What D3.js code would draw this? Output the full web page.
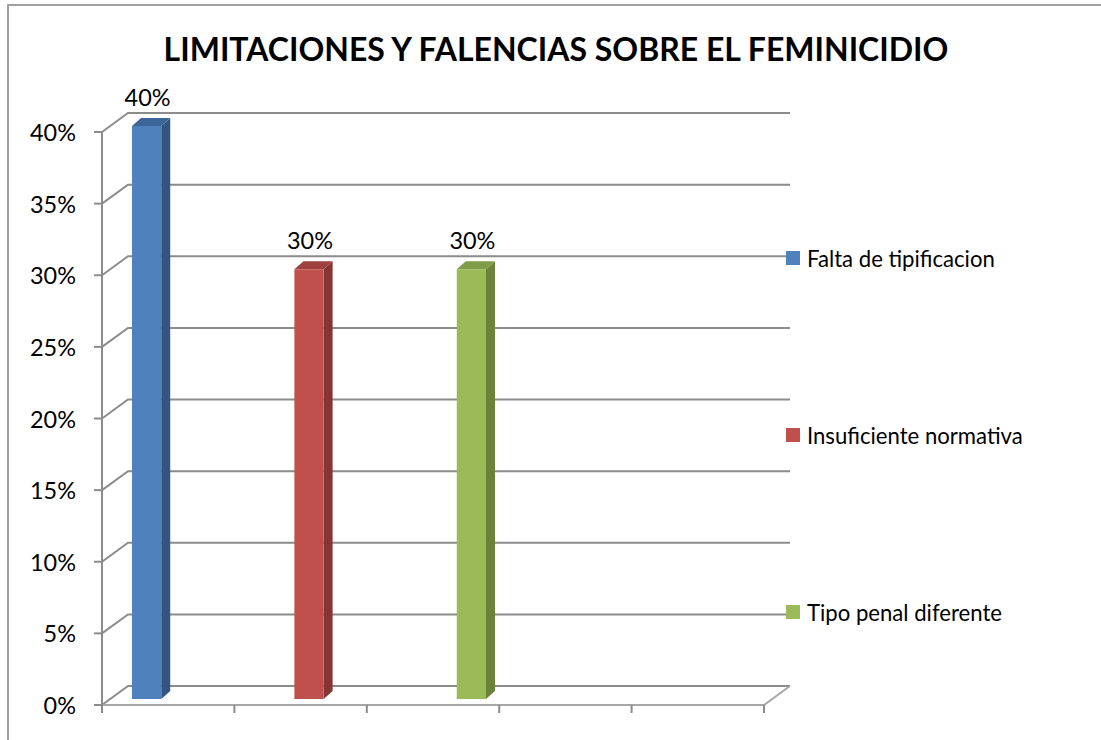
<!DOCTYPE html>
<html>
<head>
<meta charset="utf-8">
<style>
  body { margin: 0; background: #fff; }
  svg text { font-family: Lato, "Open Sans", sans-serif; fill: #000; }
</style>
<script src="https://d3js.org/d3.v7.min.js"></script>
</head>
<body>
<svg id="chart" width="1101" height="740"></svg>
<script>

// data
var series = ["Falta de tipificacion", "Insuficiente normativa", "Tipo penal diferente"];
var values = [0.40, 0.30, 0.30];
var yTicks = [0, 0.05, 0.10, 0.15, 0.20, 0.25, 0.30, 0.35, 0.40];
var slots = [0, 1, 2, 3, 4, 5];   // category tick marks on the floor
var title = "LIMITACIONES Y FALENCIAS SOBRE EL FEMINICIDIO";

// Excel 2007 palette: face, side, top
var colors = {
  "Falta de tipificacion":  { face: "#4f81bd", side: "#34557f", top: "#3c6698" },
  "Insuficiente normativa": { face: "#c0504d", side: "#853533", top: "#9e403d" },
  "Tipo penal diferente":   { face: "#9bbb59", side: "#6b823b", top: "#809c48" }
};

var svg = d3.select("#chart");
var grid = "#8c8c8c";

// outer frame
svg.append("rect")
  .attr("x", 8).attr("y", 5).attr("width", 1200).attr("height", 1000)
  .attr("fill", "none").attr("stroke", "#a0a0a0").attr("stroke-width", 2);

// 3d box: front axis plane and depth offset of the walls
var depth = { dx: 26, dy: -19 };
var y = d3.scaleLinear().domain([0, 0.4]).range([705, 132]);
var xFloor = d3.scaleLinear().domain([0, 5]).range([102, 764]);
var xBar = d3.scaleBand().domain(series).range([132, 486]).paddingInner(0.82);

var g = svg.append("g");

// left wall diagonals + back wall gridlines
yTicks.forEach(function(t) {
  var yf = y(t), yb = y(t) + depth.dy;
  g.append("path")
    .attr("d", "M" + xFloor(0) + "," + yf + "L" + (xFloor(0) + depth.dx) + "," + yb +
               "L" + (xFloor(5) + depth.dx) + "," + yb)
    .attr("fill", "none").attr("stroke", grid).attr("stroke-width", 2);
});

// floor front edge and right edge
g.append("path")
  .attr("d", "M" + xFloor(0) + "," + y(0) + "L" + xFloor(5) + "," + y(0) +
             "L" + (xFloor(5) + depth.dx) + "," + (y(0) + depth.dy))
  .attr("fill", "none").attr("stroke", "#a6a6a6").attr("stroke-width", 2);

// vertical axis line and ticks
g.append("line")
  .attr("x1", xFloor(0)).attr("x2", xFloor(0))
  .attr("y1", y(0.4)).attr("y2", y(0) + 8)
  .attr("stroke", grid).attr("stroke-width", 2);

g.selectAll(".ytick").data(yTicks).enter().append("line")
  .attr("x1", xFloor(0) - 8).attr("x2", xFloor(0))
  .attr("y1", function(d) { return y(d); }).attr("y2", function(d) { return y(d); })
  .attr("stroke", grid).attr("stroke-width", 2);

g.selectAll(".xtick").data(slots).enter().append("line")
  .attr("x1", function(d) { return xFloor(d); }).attr("x2", function(d) { return xFloor(d); })
  .attr("y1", y(0)).attr("y2", y(0) + 8)
  .attr("stroke", grid).attr("stroke-width", 2);

var yLabels = svg.selectAll(".ylab").data(yTicks).enter().append("text")
  .attr("x", 76)
  .attr("y", function(d) { return y(d); })
  .attr("text-anchor", "end")
  .attr("dominant-baseline", "central")
  .text(d3.format(".0%"));

// bars: front face sits a little inside the floor
var inset = { dx: 8, dy: -6 };
var bd = { dx: 9, dy: -8 };
var bars = svg.selectAll(".bar").data(series).enter().append("g");

bars.each(function(s, i) {
  var b = d3.select(this);
  var x0 = xBar(s) + inset.dx - 8, w = xBar.bandwidth();
  var yb = y(0) + inset.dy, yt = y(values[i]) + inset.dy;
  var c = colors[s];
  // side
  b.append("path")
    .attr("d", "M" + (x0 + w) + "," + yb + "L" + (x0 + w + bd.dx) + "," + (yb + bd.dy) +
               "L" + (x0 + w + bd.dx) + "," + (yt + bd.dy) + "L" + (x0 + w) + "," + yt + "Z")
    .attr("fill", c.side);
  // top
  b.append("path")
    .attr("d", "M" + x0 + "," + yt + "L" + (x0 + bd.dx) + "," + (yt + bd.dy) +
               "L" + (x0 + w + bd.dx) + "," + (yt + bd.dy) + "L" + (x0 + w) + "," + yt + "Z")
    .attr("fill", c.top);
  // face
  b.append("rect")
    .attr("x", x0).attr("y", yt).attr("width", w).attr("height", yb - yt)
    .attr("fill", c.face);
  // data label
  b.append("text").attr("class", "dlab")
    .attr("x", x0 + w / 2 + 1).attr("y", yt - 20)
    .attr("text-anchor", "middle")
    .text(d3.format(".0%")(values[i]));
});

// legend
var legend = svg.selectAll(".leg").data(series).enter().append("g")
  .attr("transform", function(d, i) { return "translate(786," + (258 + i * 177) + ")"; });
legend.append("rect")
  .attr("x", 0).attr("y", -7).attr("width", 14).attr("height", 14)
  .attr("fill", function(d) { return colors[d].face; });
var legText = legend.append("text")
  .attr("x", 21).attr("y", 0)
  .attr("dominant-baseline", "central")
  .text(function(d) { return d; });

var titleText = svg.append("text")
  .attr("x", 556).attr("y", 61)
  .attr("text-anchor", "middle")
  .style("font-weight", "bold")
  .text(title);

// scale fonts so the substitute face takes about the same room as the original
function fit(sel, node, target) {
  sel.style("font-size", "100px");
  var w = node.getComputedTextLength();
  sel.style("font-size", (100 * target / w) + "px");
}
fit(titleText, titleText.node(), 785);
fit(legText, legText.nodes()[0], 188);
fit(yLabels, yLabels.nodes()[8], 46);
svg.selectAll(".dlab").style("font-size", yLabels.style("font-size"));

</script>
</body>
</html>
